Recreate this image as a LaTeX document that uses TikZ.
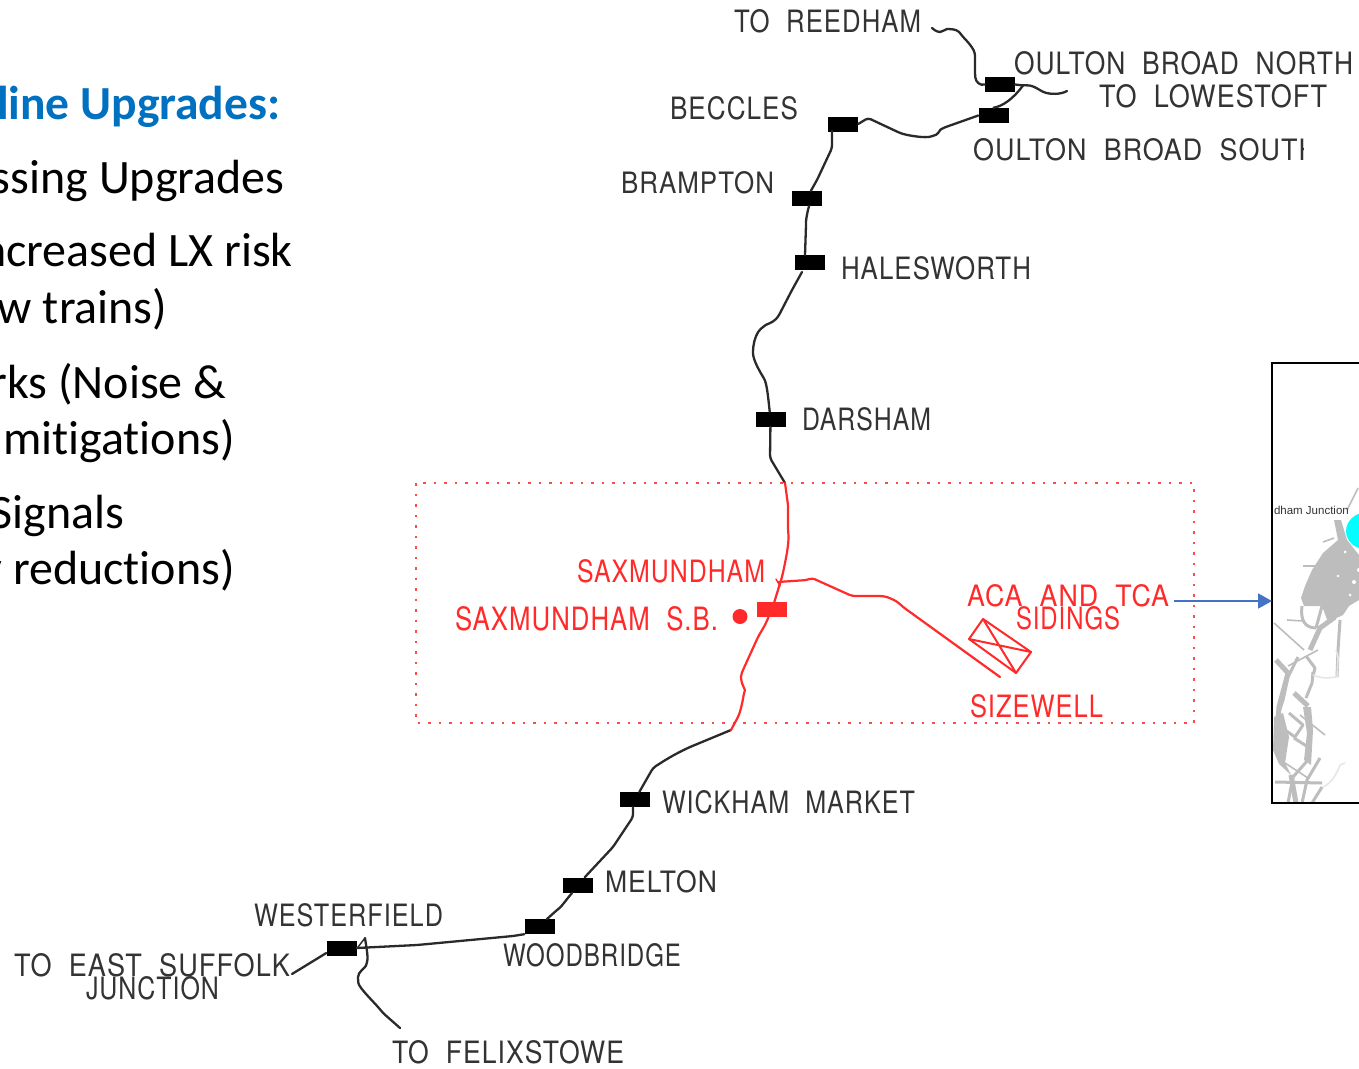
\documentclass[tikz,border=0pt]{standalone}
\usepackage{fontspec}
\usepackage{graphicx}
\setmainfont[Ligatures=CommonOff]{Carlito}
\newfontfamily\cadfont[LetterSpace=4,WordSpace=2]{TeX Gyre Heros}
\newfontfamily\mapfont{Liberation Sans}
\usetikzlibrary{arrows.meta}
\definecolor{railblack}{HTML}{2A2A2A}
\definecolor{railred}{HTML}{FF2A2A}
\definecolor{zonered}{HTML}{FF4A4A}
\definecolor{headblue}{HTML}{0070C0}
\definecolor{arrowblue}{HTML}{4472C4}
\definecolor{mapgrey}{HTML}{BDBDBD}
\definecolor{mapfaint}{HTML}{E6E6E6}
\definecolor{mapcyan}{HTML}{00FFFF}
\definecolor{labelgrey}{HTML}{333333}
\newcommand{\cad}[3]{\resizebox{#1pt}{#2pt}{\cadfont #3}}
\tikzset{
  station/.style={rectangle,fill=black,minimum width=30pt,minimum height=15pt,inner sep=0pt},
  stationred/.style={station,fill=railred},
  rail/.style={draw=railblack,line width=2.3pt,line join=round,line cap=round,rounded corners=3pt},
  railr/.style={draw=railred,line width=2.2pt,line join=round,line cap=round,rounded corners=3pt},
  cadlabel/.style={inner sep=0pt,outer sep=0pt,anchor=west,text=labelgrey},
  cadred/.style={cadlabel,text=railred},
  bodytext/.style={inner sep=0pt,anchor=base east,font=\fontsize{48}{54}\selectfont,text=black},
  headtext/.style={bodytext,font=\fontsize{47.5}{54}\selectfont\bfseries,text=headblue},
  road/.style={draw=mapgrey,line width=3pt,line join=round},
  roadfat/.style={draw=mapgrey,line width=5pt,line join=round},
  roadthin/.style={draw=mapgrey,line width=1.6pt,line join=round},
  roadfaint/.style={draw=mapfaint,line width=1.6pt,line join=round},
  mapfill/.style={fill=mapgrey},
  zone/.style={draw=zonered,line width=2.5pt,dash pattern=on 2.5pt off 8pt},
  insetframe/.style={draw=black,line width=2pt}
}
\begin{document}
\begin{tikzpicture}[x=1pt,y=-1pt]
\useasboundingbox (0,0) rectangle (1359,1068);
\clip (0,0) rectangle (1359,1068);
\fill[white] (0,0) rectangle (1359,1068);

% left text (cut by the page edge)
\node[headtext] (t0) at (280.5,119) {dline Upgrades:};
\node[bodytext] (t1) at (284.5,193.5) {ossing Upgrades};
\node[bodytext] (t2) at (293,266.5) {ncreased LX risk};
\node[bodytext] (t3) at (167.5,323.5) {w trains)};
\node[bodytext] (t4) at (226.5,398.5) {orks (Noise \&};
\node[bodytext] (t5) at (235,454.5) {mitigations)};
\node[bodytext] (t6) at (124.5,528.5) {Signals};
\node[bodytext] (t7) at (235,584.5) {y reductions)};

% highlighted zone
\draw[zone] (416,483) rectangle (1194,723);

% stations
\node[station] (obn) at (1000,84.5) {};
\node[station] (obs) at (993.5,115.5) {};
\node[station] (bec) at (843,124) {};
\node[station] (bra) at (806.5,198.5) {};
\node[station] (hal) at (810,262.5) {};
\node[station] (dar) at (770.5,419.5) {};
\node[stationred] (sax) at (772,609.5) {};
\node[station] (wic) at (635,799.5) {};
\node[station] (mel) at (577.5,885) {};
\node[station] (woo) at (539.5,926.5) {};
\node[station] (wes) at (341.5,948) {};

% free ends
\coordinate (reedhamEnd) at (932,28);
\coordinate (lowestoftEnd) at (1067,91);
\coordinate (junc) at (1023,85.5);
\coordinate (zoneTop) at (785,483);
\coordinate (zoneBot) at (731,730);
\coordinate (sidingEnd) at (1000,677);
\coordinate (branch) at (778,582);
\coordinate (suffolkEnd) at (292,974);
\coordinate (felixEnd) at (400,1028);
\coordinate (felixTop) at (365,938);

% black line
\draw[rail] (reedhamEnd) -- (937,32) .. controls (943,32) and (945,29) .. (950,29) .. controls (958,30) and (960,33) .. (963,37) .. controls (968,42) and (972,47) .. (975,53) -- (975,75) .. controls (976,82) and (980,86) .. (obn.west);
\draw[rail] (obn.east) -- (junc) .. controls (1031,85) and (1035,87) .. (1043,92) .. controls (1050,94) and (1060,95) .. (lowestoftEnd);
\draw[rail] (obs.north) .. controls (1003,106) and (1013,99) .. (junc);
\draw[rail] (bec.east) -- (868,118) -- (900,133) .. controls (910,136) and (925,138) .. (933,136) .. controls (938,134) and (940,130) .. (943,128) -- (obs.west);
\draw[rail] (832,131) -- (832,148) -- (817,180) -- (bra);
\draw[rail] (809,206) .. controls (807,213) and (806,220) .. (806,225) -- (805,255);
\draw[rail] (802,272) -- (792,290) -- (778,317) .. controls (772,323) and (767,324) .. (763,327) .. controls (757,332) and (754,340) .. (753,350) .. controls (753,360) and (760,372) .. (765,380) .. controls (767,388) and (768,395) .. (dar);
\draw[rail] (dar) -- (770,458) -- (zoneTop);
\draw[rail] (zoneBot) -- (690,747) .. controls (675,754) and (665,760) .. (653,768) -- (wic);
\draw[rail] (633,807) -- (633,817) -- (613,847) -- (mel);
\draw[rail] (572,893) .. controls (566,900) and (562,906) .. (557,910) -- (547,919);
\draw[rail] (woo.south west) -- (513,936) -- (417,945) -- (wes.east);
\draw[rail] (wes.west) ++(0,5) -- (suffolkEnd);
\draw[rail] (felixTop) .. controls (366,945) and (368,955) .. (367,963) .. controls (365,968) and (358,972) .. (358,980) .. controls (359,988) and (375,1003) .. (383,1013) -- (felixEnd);
\draw[rail,line width=1.4pt] (felixTop) -- (358,947);

% red line
\draw[railr] (zoneTop) -- (788,505) -- (788,530) .. controls (789,540) and (788,550) .. (782,577) -- (sax) -- (765,625) -- (758,637) -- (743,670) .. controls (741,675) and (741,678) .. (741,680) .. controls (743,686) and (745,690) .. (744,693) .. controls (742,705) and (740,712) .. (738,717) -- (zoneBot);
\draw[railr] (branch) -- (807,580) -- (812,578) -- (852,596) -- (880,596) .. controls (890,597) and (898,602) .. (903,607) -- (sidingEnd);
\draw[railr,line width=1.4pt] (776,579) -- (780,586);

% red dot
\fill[railred] (740,616.5) circle (7.5pt);

% sidings symbol
\coordinate (s1) at (983,619);
\coordinate (s2) at (1031,652);
\coordinate (s3) at (1016,673);
\coordinate (s4) at (969,639);
\draw[railr,line width=2pt,rounded corners=0pt] (s1) -- (s2) -- (s3) -- (s4) -- cycle;
\draw[railr,line width=2pt,rounded corners=0pt] (s1) -- (s3) (s4) -- (s2);

% labels
\node[cadlabel] (l1) at (734,21.5) {\cad{187}{23}{TO REEDHAM}};
\node[cadlabel] (l2) at (1014,63.5) {\cad{339}{23}{OULTON BROAD NORTH}};
\node[cadlabel] (l3) at (1099,96.5) {\cad{228}{23}{TO LOWESTOFT}};
\begin{scope}
\clip (960,130) rectangle (1303,170);
\node[cadlabel] (l4) at (973,150) {\cad{345}{22}{OULTON BROAD SOUTH}};
\end{scope}
\node[cadlabel] (l5) at (670,108.5) {\cad{128}{23}{BECCLES}};
\node[cadlabel] (l6) at (621,183) {\cad{153}{22}{BRAMPTON}};
\node[cadlabel] (l7) at (841,268.5) {\cad{190}{23}{HALESWORTH}};
\node[cadlabel] (l8) at (802,419.5) {\cad{129}{23}{DARSHAM}};
\node[cadred] (l9) at (577,571.5) {\cad{188}{23}{SAXMUNDHAM}};
\node[cadred] (l10) at (455,619) {\cad{263}{24}{SAXMUNDHAM S.B.}};
\node[cadred] (l11) at (967,596) {\cad{202}{22}{ACA AND TCA}};
\node[cadred] (l12) at (1016,618.5) {\cad{104}{23}{SIDINGS}};
\node[cadred] (l13) at (970,706.5) {\cad{133}{23}{SIZEWELL}};
\node[cadlabel] (l14) at (662,802.5) {\cad{253}{23}{WICKHAM MARKET}};
\node[cadlabel] (l15) at (605,882) {\cad{112}{22}{MELTON}};
\node[cadlabel] (l16) at (254,915.5) {\cad{189}{23}{WESTERFIELD}};
\node[cadlabel] (l17) at (503,955.5) {\cad{178}{23}{WOODBRIDGE}};
\node[cadlabel] (l18) at (14,965.5) {\cad{276}{23}{TO EAST SUFFOLK}};
\node[cadlabel] (l19) at (86,988.5) {\cad{133}{23}{JUNCTION}};
\node[cadlabel] (l20) at (392,1052.5) {\cad{232}{23}{TO FELIXSTOWE}};

% inset map
\node[minimum width=87pt,minimum height=440pt,inner sep=0pt,outer sep=0pt] (inset) at (1315.5,583) {};
\begin{scope}
\clip (inset.north west) rectangle (inset.south east);
\draw[roadthin] (1347,510) -- (1358,488);
\fill[mapfill] (1334,520) -- (1341,520) -- (1347,540) -- (1359,555) -- (1359,600) -- (1349,606) -- (1343,615) -- (1328,622) -- (1322,606) -- (1304,606) -- (1301,598) -- (1305,586) -- (1312,570) -- (1323,553) -- (1338,540) -- cycle;
\draw[roadthin] (1323,542) -- (1334,538);
\draw[roadthin] (1303,566) -- (1316,566) -- (1312,578);
\fill[white] (1338,576) circle (1.4pt) (1354,582) circle (2pt) (1350,595) circle (1.5pt) (1345,552) circle (1.5pt) (1359,570) circle (2pt);
\draw[road] (1302,606) .. controls (1300,620) and (1305,628) .. (1316,628);
\draw[road] (1316,628) -- (1322,606);
\draw[roadfat] (1310,650) -- (1320,628) -- (1335,617);
\draw[roadthin] (1274,623) -- (1304,650);
\draw[roadthin] (1287,620) -- (1303,621);
\draw[roadfat] (1276,660) -- (1288,673);
\draw[road] (1298,657) -- (1288,677) -- (1283,700) -- (1278,715);
\draw[roadfat] (1288,673) -- (1279,707) -- (1277,735);
\draw[roadthin] (1288,666) -- (1318,650);
\draw[road] (1306,656) -- (1315,668) -- (1313,676);
\draw[road] (1340,620) -- (1338,650) -- (1337,677);
\draw[roadfat] (1294,693) -- (1308,706);
\draw[road] (1306,698) -- (1312,683) -- (1313,672);
\draw[road] (1289,713) -- (1303,725) -- (1295,737) -- (1285,730);
\draw[road] (1294,738) -- (1308,747);
\draw[roadthin] (1300,715) -- (1325,735);
\fill[mapfill] (1274,717) -- (1283,713) -- (1289,737) -- (1285,763) -- (1291,775) -- (1279,764) -- (1273,750) -- cycle;
\fill[mapfill] (1303,707) -- (1311,707) -- (1313,730) -- (1311,765) -- (1304,760) -- (1307,733) -- cycle;
\draw[road] (1275,782) -- (1322,783);
\draw[roadfat] (1291,775) -- (1296,803);
\draw[road] (1288,803) -- (1293,777) -- (1308,760);
\draw[road] (1302,803) -- (1307,780) -- (1320,758);
\draw[road] (1312,803) -- (1322,787);
\draw[roadthin] (1285,763) -- (1308,778);
\draw[roadfaint] (1337,677) -- (1338,657) -- (1336,650);
\draw[roadfaint] (1313,675) .. controls (1325,680) and (1332,677) .. (1337,677);
\draw[roadfaint] (1323,787) .. controls (1332,783) and (1337,773) .. (1340,765) -- (1345,763);
\fill[mapcyan] (1368,531) ellipse (22pt and 19pt);
\node[inner sep=0pt,anchor=base east,text=labelgrey,font=\mapfont\fontsize{11.5}{12}\selectfont] (mapname) at (1349,514.5) {dham Junction};
\end{scope}
\draw[insetframe] (inset.north east) -- (inset.north west) -- (inset.south west) -- (inset.south east);

% arrow
\coordinate (arrowStart) at (1174,601);
\draw[draw=arrowblue,line width=1.8pt,-{Triangle[length=14pt,width=15pt]}] (arrowStart) -- (arrowStart -| inset.west);
\end{tikzpicture}
\end{document}
